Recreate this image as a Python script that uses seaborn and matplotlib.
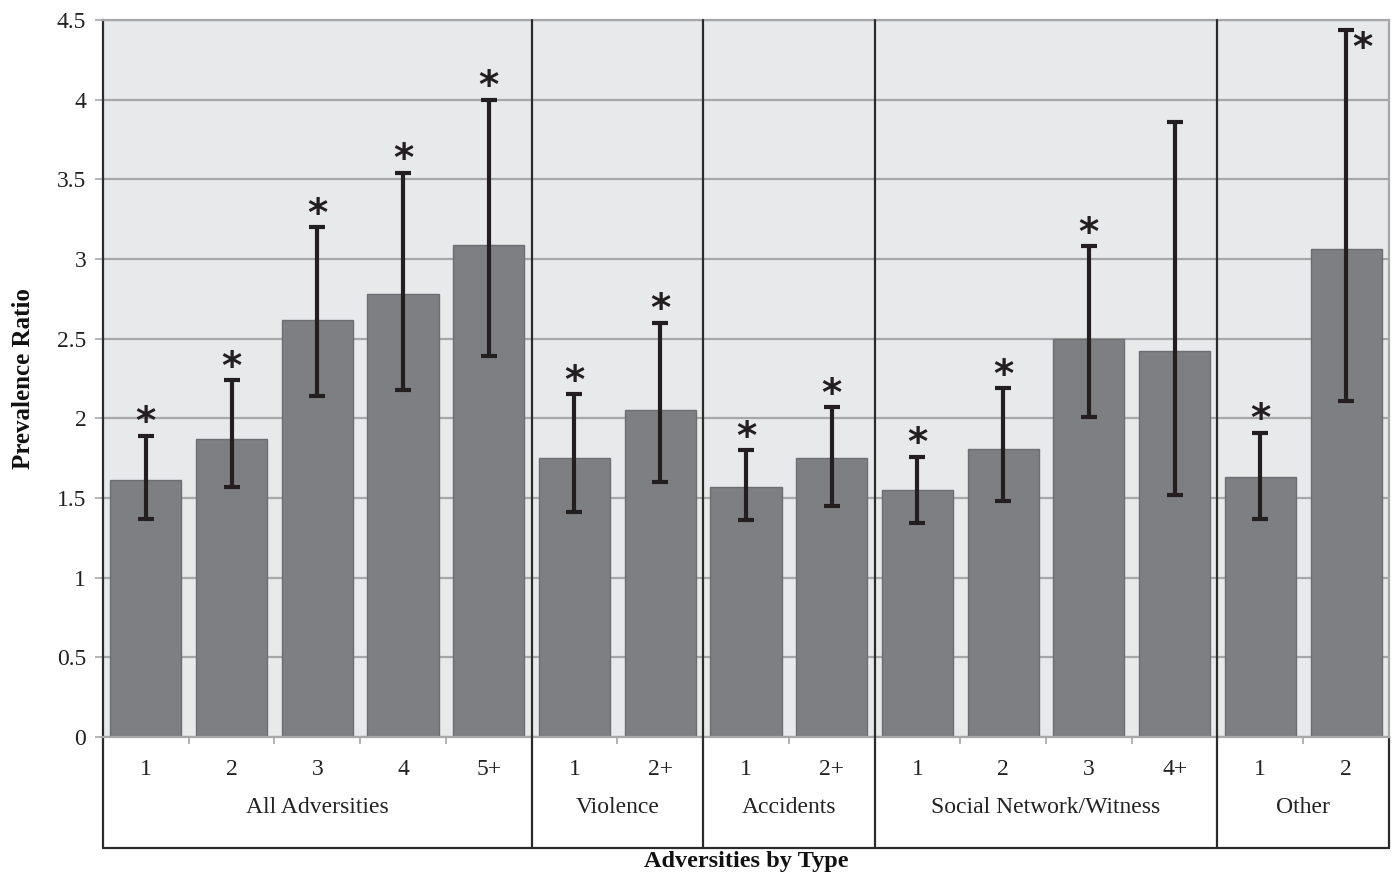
import numpy as np
import pandas as pd
import matplotlib
matplotlib.use("Agg")
import matplotlib.pyplot as plt
import seaborn as sns
from matplotlib.lines import Line2D

# Prevalence ratios with 95% confidence limits, by adversity type and count
groups = (["All Adversities"] * 5 + ["Violence"] * 2 + ["Accidents"] * 2
          + ["Social Network/Witness"] * 4 + ["Other"] * 2)
levels = ["1", "2", "3", "4", "5+", "1", "2+", "1", "2+", "1", "2", "3", "4+", "1", "2"]
ratio = [1.61, 1.87, 2.62, 2.78, 3.09, 1.75, 2.05, 1.57, 1.75, 1.55, 1.81, 2.50, 2.42, 1.63, 3.06]
ci_low = [1.37, 1.57, 2.14, 2.18, 2.39, 1.41, 1.60, 1.36, 1.45, 1.34, 1.48, 2.01, 1.52, 1.37, 2.11]
ci_high = [1.89, 2.24, 3.20, 3.54, 4.00, 2.15, 2.60, 1.80, 2.07, 1.76, 2.19, 3.08, 3.86, 1.91, 4.44]
significant = [True] * 12 + [False] + [True, True]
y_ticks = [0, 0.5, 1, 1.5, 2, 2.5, 3, 3.5, 4, 4.5]
y_ticklabels = ["0", "0.5", "1", "1.5", "2", "2.5", "3", "3.5", "4", "4.5"]

df = pd.DataFrame({
    "group": groups,
    "level": levels,
    "ratio": ratio,
    "low": ci_low,
    "high": ci_high,
})
df["slot"] = [f"{g}|{l}" for g, l in zip(groups, levels)]

sns.set_theme(style="white")
plt.rcParams["font.family"] = ["Liberation Serif", "DejaVu Serif"]

BG = "#e8e9eb"
BAR = "#7e7f83"
BAR_EDGE = "#6d6e72"
GRID = "#a7a7a9"
INK = "#231f20"
FRAME = "#2b2b2b"

fig = plt.figure(figsize=(13.93, 8.8), dpi=100)
ax = fig.add_axes([0.0739, 0.1625, 0.9232, 0.8148])
ax.set_facecolor(BG)

sns.barplot(data=df, x="slot", y="ratio", order=list(df["slot"]), color=BAR,
            saturation=1, width=0.83, edgecolor=BAR_EDGE, linewidth=1.0,
            errorbar=None, ax=ax, zorder=2)

xpos = np.arange(len(df))
yerr = np.vstack([df["ratio"] - df["low"], df["high"] - df["ratio"]])
ax.errorbar(xpos, df["ratio"], yerr=yerr, fmt="none", ecolor=INK,
            elinewidth=3, capsize=5.5, capthick=3, zorder=4)

# significance markers
for i, (sig, hi) in enumerate(zip(significant, ci_high)):
    if not sig:
        continue
    if hi > 4.3:
        offset = (12, -14)
    else:
        offset = (0, 9)
    ax.annotate("*", (i, hi), xytext=offset, textcoords="offset points",
                ha="center", va="center", fontsize=28, fontweight="bold",
                color=INK, zorder=5, family=["DejaVu Sans"])

ax.set_ylim(0, 4.5)
ax.set_xlim(-0.5, len(df) - 0.5)
ax.set_yticks(y_ticks, y_ticklabels)
ax.yaxis.grid(True, color=GRID, linewidth=1.6, zorder=0)
ax.set_axisbelow(True)
ax.tick_params(axis="y", length=6, width=1.2, color=GRID, labelsize=17,
               pad=6, labelcolor="#222222", left=True)

ax.set_xticks(xpos, levels)
ax.tick_params(axis="x", length=0, labelsize=17, pad=16, labelcolor="#222222")
ax.set_xticks(np.arange(0.5, len(df) - 1, 1.0), minor=True)
ax.tick_params(axis="x", which="minor", length=5, width=1.2, color=GRID,
               bottom=True, direction="out")

for side in ["top", "right", "bottom"]:
    ax.spines[side].set_color(GRID)
    ax.spines[side].set_linewidth(1.6)
ax.spines["left"].set_color(FRAME)
ax.spines["left"].set_linewidth(1.6)

ax.set_xlabel("Adversities by Type", fontsize=17.5, fontweight="bold",
              labelpad=51, color="#111111")
ax.set_ylabel("Prevalence Ratio", fontsize=18, fontweight="bold",
              labelpad=16, color="#111111")

# group table below the axis
trans = ax.get_xaxis_transform()
box_bottom = -0.155
group_names = list(dict.fromkeys(groups))
starts = [groups.index(g) for g in group_names]
ends = [s + groups.count(g) for s, g in zip(starts, group_names)]
for g, s, e in zip(group_names, starts, ends):
    ax.text((s + e - 1) / 2, -0.099, g, transform=trans, ha="center",
            va="center", fontsize=17, color="#222222")
for b in ends[:-1]:
    ax.add_line(Line2D([b - 0.5, b - 0.5], [1, box_bottom], transform=trans,
                       color=FRAME, linewidth=1.6, clip_on=False, zorder=6))
ax.add_line(Line2D([-0.5, -0.5], [0, box_bottom], transform=trans,
                   color=FRAME, linewidth=1.6, clip_on=False))
ax.add_line(Line2D([len(df) - 0.5, len(df) - 0.5], [0, box_bottom],
                   transform=trans, color=FRAME, linewidth=1.6, clip_on=False))
ax.add_line(Line2D([-0.5, len(df) - 0.5], [box_bottom, box_bottom],
                   transform=trans, color=FRAME, linewidth=1.6, clip_on=False))

fig.savefig("out.png", dpi=100, facecolor="white")
